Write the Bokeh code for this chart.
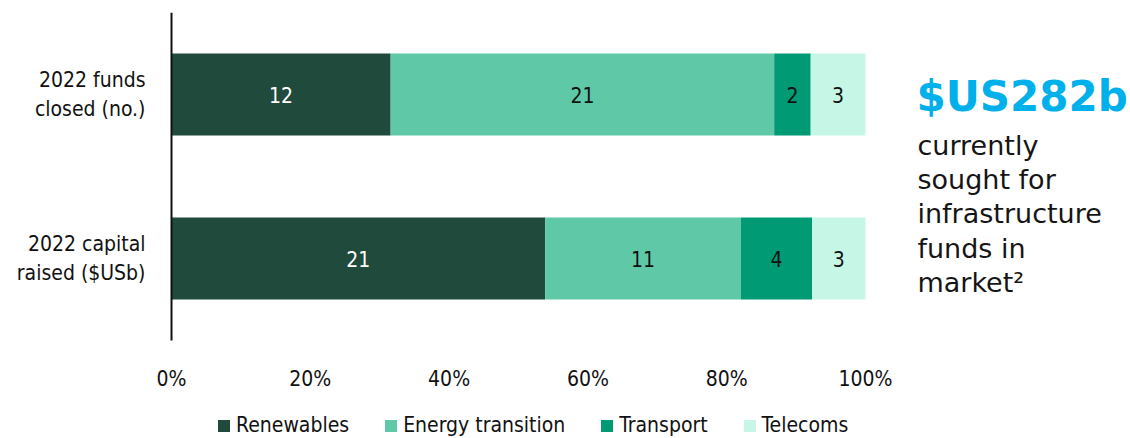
import numpy as np
from bokeh.plotting import figure
from bokeh.models import (ColumnDataSource, Range1d, FixedTicker,
                          Legend, LegendItem, Label, LabelSet)
from bokeh.core.properties import value
from bokeh.embed import file_html
from bokeh.resources import INLINE

categories = ["2022 funds\nclosed (no.)", "2022 capital\nraised ($USb)"]
series = ["Renewables", "Energy transition", "Transport", "Telecoms"]
renewables = [12, 21]
energy_transition = [21, 11]
transport = [2, 4]
telecoms = [3, 3]
colors = ["#1f4a3c", "#5fc9a7", "#009a74", "#c6f6e6"]
label_colors = ["white", "#111111", "#111111", "#111111"]
x_ticks = [0, 20, 40, 60, 80, 100]
headline = "$US282b"
note_lines = ["currently", "sought for", "infrastructure", "funds in", "market\u00b2"]

COND = "Liberation Sans Narrow, DejaVu Sans Condensed, sans-serif"
WIDE = "DejaVu Sans"

vals = np.array([renewables, energy_transition, transport, telecoms], dtype=float)
shares = vals / vals.sum(axis=0) * 100
cum = np.cumsum(shares, axis=0)
left = cum - shares
n = len(categories)
ypos = [n - 0.5 - i for i in range(n)]  # first category at top

data = {"y": ypos}
for k, s in enumerate(series):
    data[s] = list(shares[k])
src = ColumnDataSource(data)

# layout in pixels
W, H = 1130, 438
axis_top, axis_bottom = 12, 340          # where the value axis spans (y data 0..n)
zero_px, full_px = 171, 865              # 0% and 100% positions
frame_left, right_border = 150, 4
px_per_x = (full_px - zero_px) / 100
px_per_y = (axis_bottom - axis_top) / n

def dx(px):
    return (px - zero_px) / px_per_x
def dy(py):
    return (axis_bottom - py) / px_per_y

p = figure(width=W, height=H, output_backend="svg", toolbar_location=None,
           x_range=Range1d(dx(frame_left), dx(W - right_border)),
           y_range=Range1d(dy(H), dy(axis_top)),
           min_border_left=frame_left, min_border_right=right_border,
           min_border_top=axis_top, min_border_bottom=0)
p.outline_line_color = None
p.xgrid.visible = False
p.ygrid.visible = False
p.xaxis.visible = False
p.background_fill_color = "white"
p.border_fill_color = "white"

rs = p.hbar_stack(series, y="y", height=0.5, color=colors, source=src, line_color=None)

# vertical axis line
p.segment(x0=[0], y0=[0], x1=[0], y1=[n], line_color="#111111", line_width=2)

# value labels
for k, s in enumerate(series):
    lsrc = ColumnDataSource(dict(x=list(left[k] + shares[k] / 2), y=ypos,
                                 t=[str(int(v)) for v in vals[k]]))
    p.add_layout(LabelSet(x="x", y="y", text="t", source=lsrc, text_align="center",
                          text_baseline="middle", text_font=value(COND),
                          text_font_size=value("21px"), text_color=value(label_colors[k])))

# x tick labels (drawn as text so the frame can extend down to the legend)
tsrc = ColumnDataSource(dict(x=x_ticks, y=[dy(378)] * len(x_ticks),
                             t=["%d%%" % t for t in x_ticks]))
p.add_layout(LabelSet(x="x", y="y", text="t", source=tsrc, text_align="center",
                      text_baseline="middle", text_font=value(COND),
                      text_font_size=value("21px"), text_color=value("#111111")))

# y axis: labels only
p.yaxis.ticker = FixedTicker(ticks=ypos)
p.yaxis.major_label_overrides = {y: c for y, c in zip(ypos, categories)}
p.yaxis.axis_line_color = None
p.yaxis.major_tick_line_color = None
p.yaxis.minor_tick_line_color = None
p.yaxis.major_tick_out = 0
p.yaxis.major_tick_in = 0
p.yaxis.major_label_standoff = 5
p.yaxis.major_label_text_font = COND
p.yaxis.major_label_text_font_size = "21px"
p.yaxis.major_label_text_color = "#111111"
p.yaxis.major_label_text_align = "right"

# legend
legend = Legend(items=[LegendItem(label=s, renderers=[r]) for s, r in zip(series, rs)],
                orientation="horizontal", location=(216 - frame_left, 1),
                label_text_font=COND, label_text_font_size="21px", label_text_color="#111111",
                glyph_width=15, glyph_height=15, label_standoff=5, spacing=34,
                padding=0, margin=0, border_line_color=None, background_fill_alpha=0)
p.add_layout(legend)

# right-side annotation
p.add_layout(Label(x=dx(916), y=dy(96), text=headline, text_font=WIDE,
                   text_font_style="bold", text_font_size="42px", text_color="#00b0eb",
                   text_baseline="middle"))
for i, line in enumerate(note_lines):
    p.add_layout(Label(x=dx(917), y=dy(145 + 34.2 * i), text=line, text_font=WIDE,
                       text_font_size="27px", text_color="#151515", text_baseline="middle"))

open("out.html", "w").write(file_html(p, INLINE))
